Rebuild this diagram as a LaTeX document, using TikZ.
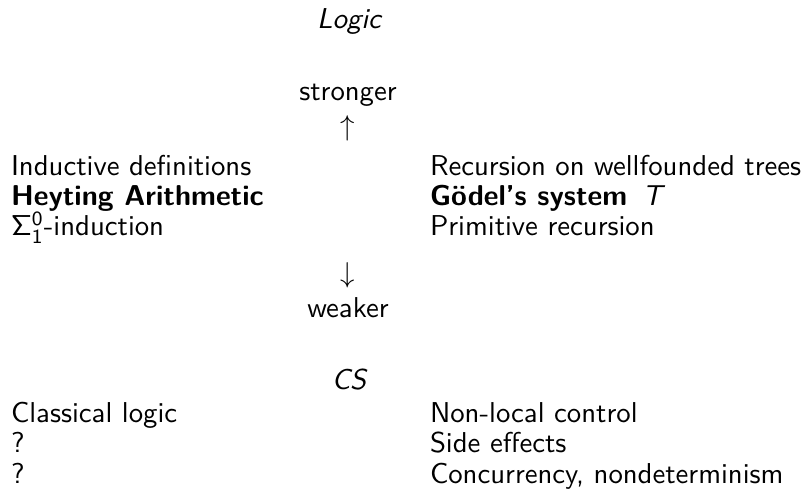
\documentclass[tikz,border=0pt]{standalone}
\usepackage{amsmath}
\usepackage{amssymb}
\usepackage{tikz}
\usepackage{xcolor}
\usetikzlibrary{positioning}

\begin{document}
\begin{tikzpicture}[
    x=0.348pt, y=-0.348pt, % one unit is one pixel of the slide
    every node/.style={font=\sffamily, inner sep=0pt, outer sep=0pt},
    col/.style={anchor=base west},
    mid/.style={anchor=base}
]
    \useasboundingbox (0,0) rectangle (807,503);

    % Logic part
    \node (logic) [mid] at (349,29) {\itshape Logic};
    \node (stronger) [mid] at (348,101) {stronger};
    \node (up) [mid] at (348,136) {$\uparrow$};

    \node (indDef) [col] at (11,176) {Inductive definitions};
    \node (heyting) [col] at (11,206) {\bfseries Heyting Arithmetic};
    \node (sigma) [col] at (11,236) {$\mathsf{\Sigma^0_1}$-induction};

    \node (wfTrees) [col] at (430,176) {Recursion on wellfounded trees};
    \node (goedel) [col] at (430,206) {\bfseries G\"odel's system {\mdseries\itshape\,T}};
    \node (primRec) [col] at (430,236) {Primitive recursion};

    \node (down) [mid] at (348,283) {$\downarrow$};
    \node (weaker) [mid] at (348,318) {weaker};

    % CS part
    \node (cs) [mid] at (349,390) {\itshape CS};
    \node (classical) [col] at (11,423) {Classical logic};
    \node (qOne) [col] at (11,453) {?};
    \node (qTwo) [col] at (11,483) {?};

    \node (nonlocal) [col] at (430,423) {Non-local control};
    \node (sideEff) [col] at (430,453) {Side effects};
    \node (concur) [col] at (430,483) {Concurrency, nondeterminism};
\end{tikzpicture}
\end{document}
